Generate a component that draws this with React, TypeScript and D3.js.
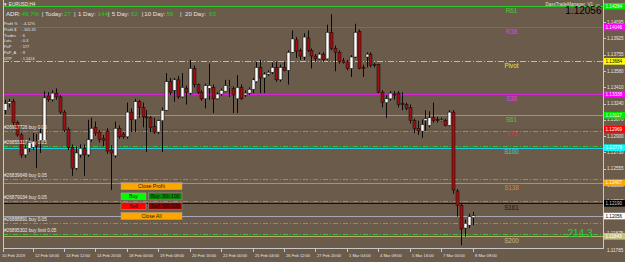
import React from "react";
import * as d3 from "d3";

const W = 625;
const H = 262;

// EURUSD H4 candles
const opens = [1.1317,1.1324,1.1326,1.1304,1.1291,1.1270,1.1277,1.1278,1.1284,1.1285,1.1285,1.1332,1.1328,1.1335,1.1331,1.1315,1.1297,1.1278,1.1256,1.1270,1.1277,1.1270,1.1286,1.1299,1.1294,1.1287,1.1295,1.1275,1.1269,1.1298,1.1292,1.1289,1.1315,1.1307,1.1326,1.1320,1.1310,1.1309,1.1300,1.1294,1.1306,1.1317,1.1347,1.1338,1.1349,1.1331,1.1340,1.1335,1.1361,1.1344,1.1336,1.1329,1.1340,1.1341,1.1329,1.1334,1.1337,1.1341,1.1340,1.1329,1.1341,1.1333,1.1335,1.1339,1.1347,1.1362,1.1351,1.1355,1.1357,1.1362,1.1349,1.1362,1.1359,1.1378,1.1391,1.1380,1.1373,1.1393,1.1380,1.1374,1.1371,1.1376,1.1371,1.1399,1.1382,1.1378,1.1369,1.1368,1.1361,1.1373,1.1400,1.1362,1.1373,1.1376,1.1365,1.1365,1.1336,1.1325,1.1329,1.1334,1.1335,1.1324,1.1323,1.1320,1.1306,1.1298,1.1295,1.1306,1.1301,1.1309,1.1307,1.1306,1.1306,1.1301,1.1315,1.1232,1.1217,1.1193,1.1196,1.1204];
const highs = [1.1328,1.1329,1.1329,1.1306,1.1293,1.1280,1.1288,1.1293,1.1292,1.1298,1.1337,1.1336,1.1338,1.1340,1.1333,1.1317,1.1299,1.1281,1.1279,1.1281,1.1281,1.1307,1.1309,1.1305,1.1296,1.1291,1.1298,1.1280,1.1305,1.1301,1.1294,1.1325,1.1319,1.1329,1.1328,1.1325,1.1317,1.1311,1.1309,1.1307,1.1320,1.1356,1.1351,1.1351,1.1353,1.1356,1.1343,1.1370,1.1364,1.1345,1.1338,1.1345,1.1366,1.1344,1.1336,1.1340,1.1349,1.1349,1.1342,1.1354,1.1344,1.1338,1.1341,1.1351,1.1368,1.1370,1.1357,1.1359,1.1367,1.1368,1.1365,1.1368,1.1380,1.1401,1.1394,1.1382,1.1398,1.1401,1.1382,1.1376,1.1378,1.1378,1.1407,1.1418,1.1385,1.1380,1.1372,1.1370,1.1375,1.1408,1.1402,1.1365,1.1378,1.1378,1.1367,1.1366,1.1338,1.1333,1.1337,1.1337,1.1337,1.1336,1.1325,1.1323,1.1308,1.1306,1.1307,1.1317,1.1316,1.1325,1.1310,1.1309,1.1308,1.1317,1.1317,1.1234,1.1219,1.1202,1.1208,1.1210];
const lows = [1.1313,1.1320,1.1301,1.1289,1.1267,1.1267,1.1273,1.1275,1.1256,1.1272,1.1283,1.1326,1.1326,1.1328,1.1313,1.1294,1.1275,1.1248,1.1254,1.1267,1.1248,1.1268,1.1284,1.1290,1.1283,1.1279,1.1271,1.1233,1.1267,1.1287,1.1287,1.1287,1.1294,1.1294,1.1309,1.1299,1.1273,1.1294,1.1292,1.1292,1.1273,1.1316,1.1333,1.1326,1.1329,1.1330,1.1323,1.1333,1.1341,1.1334,1.1327,1.1319,1.1328,1.1314,1.1328,1.1332,1.1336,1.1331,1.1314,1.1314,1.1328,1.1331,1.1333,1.1335,1.1346,1.1335,1.1335,1.1353,1.1355,1.1347,1.1347,1.1358,1.1344,1.1377,1.1372,1.1370,1.1370,1.1378,1.1361,1.1368,1.1370,1.1368,1.1370,1.1380,1.1358,1.1366,1.1366,1.1359,1.1352,1.1372,1.1360,1.1352,1.1362,1.1362,1.1362,1.1335,1.1320,1.1309,1.1327,1.1328,1.1320,1.1317,1.1317,1.1303,1.1293,1.1291,1.1288,1.1295,1.1299,1.1304,1.1304,1.1305,1.1300,1.1300,1.1229,1.1205,1.1175,1.1184,1.1193,1.1196];
const closes = [1.1324,1.1326,1.1304,1.1291,1.1270,1.1277,1.1283,1.1284,1.1279,1.1293,1.1330,1.1328,1.1335,1.1331,1.1315,1.1296,1.1278,1.1256,1.1272,1.1277,1.1270,1.1286,1.1298,1.1293,1.1286,1.1285,1.1274,1.1272,1.1298,1.1289,1.1289,1.1315,1.1307,1.1326,1.1320,1.1310,1.1309,1.1299,1.1294,1.1306,1.1317,1.1347,1.1336,1.1349,1.1331,1.1341,1.1336,1.1361,1.1344,1.1336,1.1329,1.1343,1.1343,1.1329,1.1334,1.1338,1.1343,1.1342,1.1333,1.1341,1.1329,1.1335,1.1339,1.1349,1.1362,1.1351,1.1355,1.1357,1.1362,1.1349,1.1362,1.1359,1.1378,1.1392,1.1379,1.1374,1.1394,1.1380,1.1374,1.1371,1.1376,1.1370,1.1399,1.1382,1.1378,1.1368,1.1367,1.1361,1.1373,1.1399,1.1361,1.1361,1.1376,1.1364,1.1364,1.1336,1.1325,1.1329,1.1335,1.1333,1.1323,1.1323,1.1319,1.1306,1.1298,1.1295,1.1302,1.1308,1.1309,1.1306,1.1306,1.1307,1.1301,1.1315,1.1233,1.1217,1.1192,1.1198,1.1205,1.1206];

const timeLabels = ["10 Feb 2019","12 Feb 04:00","13 Feb 12:00","14 Feb 20:00","18 Feb 00:00","19 Feb 08:00","20 Feb 16:00","22 Feb 00:00","25 Feb 04:00","26 Feb 12:00","27 Feb 20:00","1 Mar 04:00","4 Mar 08:00","5 Mar 16:00","7 Mar 00:00","8 Mar 08:00"];
const timeLabelBars = [0,7,15,23,31,39,47,55,63,71,79,87,95,103,111,119];

const priceTicks = [1.14095,1.13925,1.13755,1.1358,1.1341,1.1324,1.1307,1.129,1.1273,1.12555,1.12385,1.12215,1.12045,1.11875];
const bottomPriceLabel = "1.11785";

const levelNames = ["R61","R38","Pivot","S38","S61","S78","S100","S138","S161","S200"];
const levelPrices = [1.14264,1.14046,1.13684,1.13338,1.13117,1.12969,1.12776,1.12407,1.1219,1.11843];
const levelLineColors = ["#2fc82f","#d624d6","#d2c832","#d624d6","#33d633","#b42a2a","#22ccdd","#de8a12","#121212","#b8b070"];
const levelTextColors = ["#3ad23a","#e040e0","#e8e030","#e040e0","#3ad23a","#e03030","#50c8d8","#d88c22","#141414","#c8bc80"];
const levelBoxFill = ["#00e800","#ff00ff","#ffff00","#ff00ff","#00e800","#ff0000","#00ffff","#ffa500","#000000","#c8c080"];
const levelBoxText = ["#ffffff","#ffffff","#000000","#ffffff","#ffffff","#ffffff","#ffffff","#ffffff","#d0d0d0","#ffffff"];

const currentPrice = 1.12056;

const orderTickets = ["#26917726 buy 0.05","#26855317 buy 0.05","#26839649 buy 0.05","#26879034 buy 0.05","#26888891 buy 0.05","#26895302 buy limit 0.05"];
const orderPrices = [1.12951,1.12795,1.12441,1.12212,1.11985,1.11865];

const adrPercent = "49.7%";
const adrLabels = ["Today:","1 Day:","5 Day:","10 Day:","20 Day:"];
const adrValues = ["27","144","62","56","63"];

const statLabels = ["Profit %","Profit $","Trades","Lots","PoP","PoP_A","UTP"];
const statValues = ["-4.12%","-105.31","6","0.3","177","9","1.1424"];

const BG = "#6b5b4b";
const AXIS = "#c8c8c8";
const FONT = "'Liberation Sans', Arial, sans-serif";

export default function App() {
  const y = d3.scaleLinear().domain([1.1172, 1.1433]).range([248, 0]);
  const x = d3.scaleLinear().domain([0, opens.length - 1]).range([5, 472.6]);
  const fmt = d3.format(".5f");
  const statY = d3.scaleLinear().domain([0, statLabels.length - 1]).range([24.7, 60.1]);

  const adrX = [45, 78, 111.7, 144.3, 185];
  const adrValX = [64, 97.7, 131, 166.7, 209];
  const sepX = [41.7, 74, 107.7, 141.7, 180];

  return (
    <svg width={W} height={H} style={{ position: "absolute", left: 0, top: 0, display: "block" }} fontFamily={FONT}>
      <rect x={0} y={0} width={W} height={H} fill={BG} />

      {orderPrices.map((p, i) => (
        <line key={"ol" + i} x1={3} x2={603} y1={Math.round(y(p)) + 0.5} y2={Math.round(y(p)) + 0.5}
          stroke="#3cbf3c" strokeWidth={1} strokeDasharray="5,2,1,2" />
      ))}

      {levelPrices.map((p, i) => (
        <line key={"lv" + i} x1={3} x2={603} y1={Math.round(y(p)) + 0.5} y2={Math.round(y(p)) + 0.5}
          stroke={levelLineColors[i]} strokeWidth={1}
          strokeDasharray={levelNames[i] === "Pivot" ? "6,2,1,2" : undefined} />
      ))}
      <line x1={3} x2={603} y1={Math.round(y(currentPrice)) + 0.5} y2={Math.round(y(currentPrice)) + 0.5}
        stroke="#a4a8b4" strokeWidth={1} />

      {opens.map((o, i) => {
        const c = closes[i];
        const cx = Math.round(x(i)) + 0.5;
        const bull = c >= o;
        const top = y(Math.max(o, c));
        const bot = y(Math.min(o, c));
        return (
          <g key={"c" + i}>
            <line x1={cx} x2={cx} y1={y(highs[i])} y2={y(lows[i])} stroke="#0a0a0a" strokeWidth={1} />
            <rect x={cx - 1.5} y={top} width={3} height={Math.max(1, bot - top)}
              fill={bull ? "#ffffff" : "#a01010"} stroke="#0a0a0a" strokeWidth={0.5} />
          </g>
        );
      })}

      {levelPrices.map((p, i) => (
        <text key={"lt" + i} x={511.5} y={y(p) + 6.8} fontSize={6.3} textAnchor="middle" fill={levelTextColors[i]}>
          {levelNames[i]}
        </text>
      ))}

      {orderPrices.map((p, i) => (
        <text key={"ot" + i} x={4} y={y(p) - 2.3} fontSize={4.7} fill="#e8e8e8">{orderTickets[i]}</text>
      ))}

      <line x1={3.5} x2={3.5} y1={0} y2={248} stroke={AXIS} strokeWidth={1} />
      <line x1={603.5} x2={603.5} y1={0} y2={248.5} stroke={AXIS} strokeWidth={1} />
      <line x1={3} x2={604} y1={248.5} y2={248.5} stroke={AXIS} strokeWidth={1} />

      {priceTicks.map((p, i) => (
        <g key={"pt" + i}>
          <line x1={603} x2={606} y1={Math.round(y(p)) + 0.5} y2={Math.round(y(p)) + 0.5} stroke={AXIS} />
          <text x={607} y={y(p) + 1.7} fontSize={4.6} fill="#e6e6e6">{fmt(p)}</text>
        </g>
      ))}
      <text x={607} y={252.3} fontSize={4.6} fill="#e6e6e6">{bottomPriceLabel}</text>

      {levelPrices.map((p, i) => (
        <g key={"lb" + i}>
          <rect x={604} y={y(p) - 3.3} width={21} height={6.6} fill={levelBoxFill[i]} />
          <text x={605.5} y={y(p) + 1.7} fontSize={4.6} fill={levelBoxText[i]}>{fmt(p)}</text>
        </g>
      ))}
      <rect x={604} y={y(currentPrice) - 3.3} width={21} height={6.6} fill="#ffffff" />
      <text x={605.5} y={y(currentPrice) + 1.7} fontSize={4.6} fill="#000">{fmt(currentPrice)}</text>

      {timeLabelBars.map((b, i) => {
        const tx = i === 0 ? 3.5 : Math.round(x(b)) + 0.5;
        return (
          <g key={"tl" + i}>
            <line x1={tx} x2={tx} y1={248} y2={252} stroke={AXIS} strokeWidth={1} />
            <text x={i === 0 ? 2 : tx + 1.5} y={256.5} fontSize={4.1} fill="#e6e6e6">{timeLabels[i]}</text>
          </g>
        );
      })}

      <text x={3} y={6} fontSize={4.6} fill="#f0f0f0">▼ EURUSD,H4</text>
      <text x={6} y={15.6} fontSize={6.1} fill="#e4e4e4">ADR:</text>
      <text x={21.7} y={15.6} fontSize={6.1} fill="#22cc22">{adrPercent}</text>
      {adrLabels.map((l, i) => (
        <g key={"adr" + i}>
          <text x={sepX[i]} y={15.6} fontSize={6.1} fill="#e4e4e4">|</text>
          <text x={adrX[i]} y={15.6} fontSize={6.1} fill="#e4e4e4">{l}</text>
          <text x={adrValX[i]} y={15.6} fontSize={6.1} fill="#22cc22">{adrValues[i]}</text>
        </g>
      ))}
      {statLabels.map((l, i) => (
        <g key={"st" + i}>
          <text x={4} y={statY(i)} fontSize={3.9} fill="#e6e6e6">{l}</text>
          <text x={20.5} y={statY(i)} fontSize={3.9} fill="#e6e6e6">{": " + statValues[i]}</text>
        </g>
      ))}

      <text x={593} y={6} fontSize={4.5} textAnchor="end" fill="#e0e0e0">DaxxTradeManager_V1</text>
      <text x={595} y={6.5} fontSize={5.5} fill="#e0e0e0">☺</text>
      <text x={601.5} y={14} fontSize={10} textAnchor="end" fill="#000000">{fmt(currentPrice)}</text>
      <text x={567.5} y={237} fontSize={10} fill="#33cc33">214.3</text>

      <rect x={121} y={182.7} width={61} height={7} fill="#ffa500" stroke="#b0a090" strokeWidth={0.5} />
      <text x={151.5} y={188.2} fontSize={5.2} textAnchor="middle" fill="#1a1a1a">Close Profit</text>
      <rect x={121} y={192.9} width={25} height={7} fill="#00ff00" stroke="#b0a090" strokeWidth={0.5} />
      <text x={133.5} y={198.4} fontSize={5.2} textAnchor="middle" fill="#1a1a1a">Buy</text>
      <rect x={148.3} y={192.9} width={33.7} height={7} fill="#078a07" stroke="#b0a090" strokeWidth={0.5} />
      <text x={165.2} y={198.4} fontSize={5.2} textAnchor="middle" fill="#101010">Buy .50/.100</text>
      <rect x={121} y={202.7} width={25} height={7} fill="#ff0000" stroke="#b0a090" strokeWidth={0.5} />
      <text x={133.5} y={208.2} fontSize={5.2} textAnchor="middle" fill="#1a1a1a">Sell</text>
      <rect x={148.3} y={202.7} width={33.7} height={7} fill="#8b0000" stroke="#b0a090" strokeWidth={0.5} />
      <text x={165.2} y={208.2} fontSize={5.2} textAnchor="middle" fill="#101010">Sell .50/.100</text>
      <rect x={121} y={212.5} width={61} height={7} fill="#ffa500" stroke="#b0a090" strokeWidth={0.5} />
      <text x={151.5} y={218} fontSize={5.2} textAnchor="middle" fill="#1a1a1a">Close All</text>
    </svg>
  );
}
